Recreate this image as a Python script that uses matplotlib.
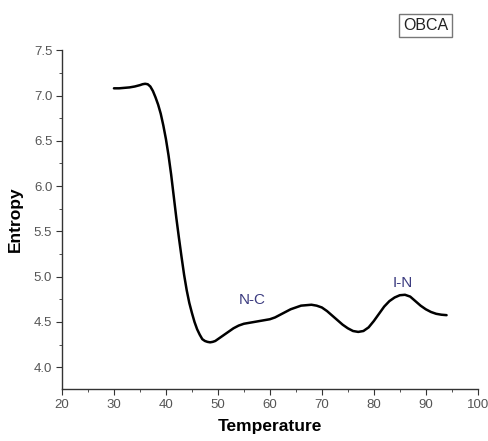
import matplotlib
matplotlib.use("Agg")
import matplotlib.pyplot as plt
from matplotlib.ticker import MultipleLocator

plt.rcParams['font.family'] = ['Liberation Sans', 'DejaVu Sans']

# valores
temperatura = [30, 31, 32, 33, 34, 35, 35.5, 36, 36.5, 37, 37.5, 38, 38.5, 39,
               39.5, 40, 40.5, 41, 41.5, 42, 42.5, 43, 43.5, 44, 44.5, 45, 45.5,
               46, 46.5, 47, 47.5, 48, 48.5, 49, 49.5, 50, 51, 52, 53, 54, 55,
               56, 57, 58, 59, 60, 61, 62, 63, 64, 65, 66, 67, 68, 69, 70, 71,
               72, 73, 74, 75, 76, 77, 78, 79, 80, 81, 82, 83, 84, 85, 86, 87,
               88, 89, 90, 91, 92, 93, 94]
entropia = [7.08, 7.08, 7.085, 7.09, 7.10, 7.115, 7.125, 7.13, 7.125, 7.10,
            7.05, 6.98, 6.90, 6.80, 6.67, 6.52, 6.34, 6.13, 5.89, 5.65, 5.43,
            5.22, 5.02, 4.85, 4.71, 4.60, 4.50, 4.42, 4.36, 4.31, 4.29, 4.28,
            4.275, 4.28, 4.29, 4.31, 4.35, 4.39, 4.43, 4.46, 4.48, 4.49, 4.50,
            4.51, 4.52, 4.53, 4.55, 4.58, 4.61, 4.64, 4.66, 4.68, 4.685, 4.69,
            4.68, 4.66, 4.62, 4.57, 4.52, 4.47, 4.43, 4.40, 4.39, 4.40, 4.44,
            4.51, 4.59, 4.67, 4.73, 4.77, 4.795, 4.80, 4.78, 4.73, 4.68, 4.64,
            4.61, 4.59, 4.58, 4.575]

rotulos = ["N-C", "I-N"]
rotulos_x = [56.7, 85.6]
rotulos_y = [4.74, 4.93]

fig = plt.figure(figsize=(4.88, 4.41), dpi=100)
ax = fig.add_axes([0.127, 0.118, 0.852, 0.768])

ax.plot(temperatura, entropia, color='black', linewidth=1.8,
        solid_joinstyle='round', solid_capstyle='round')

for txt, tx, ty in zip(rotulos, rotulos_x, rotulos_y):
    ax.text(tx, ty, txt, color='#3c3c80', fontsize=11, ha='center', va='center')

ax.set_xlim(20, 100)
ax.set_ylim(3.76, 7.5)
ax.xaxis.set_major_locator(MultipleLocator(10))
ax.xaxis.set_minor_locator(MultipleLocator(5))
ax.yaxis.set_minor_locator(MultipleLocator(0.25))
ax.set_yticks([4.0, 4.5, 5.0, 5.5, 6.0, 6.5, 7.0, 7.5])
ax.set_yticklabels(['4.0', '4.5', '5.0', '5.5', '6.0', '6.5', '7.0', '7.5'])

for s in ['top', 'right']:
    ax.spines[s].set_visible(False)
for s in ['left', 'bottom']:
    ax.spines[s].set_color('#333333')
    ax.spines[s].set_linewidth(1)

ax.tick_params(which='major', direction='out', length=4, color='#333333',
               labelsize=9.5, labelcolor='#555555', pad=3)
ax.tick_params(which='minor', direction='out', length=2.5, color='#333333')

ax.set_xlabel("Temperature", fontsize=12.5, fontweight='bold', labelpad=6)
ax.set_ylabel("Entropy", fontsize=12.5, fontweight='bold', labelpad=8)

fig.text(0.872, 0.942, "OBCA", fontsize=11.5, ha='center', va='center', color='#222222',
         bbox=dict(facecolor='white', edgecolor='#777777', boxstyle='square,pad=0.25'))

fig.savefig("out.png", dpi=100)
